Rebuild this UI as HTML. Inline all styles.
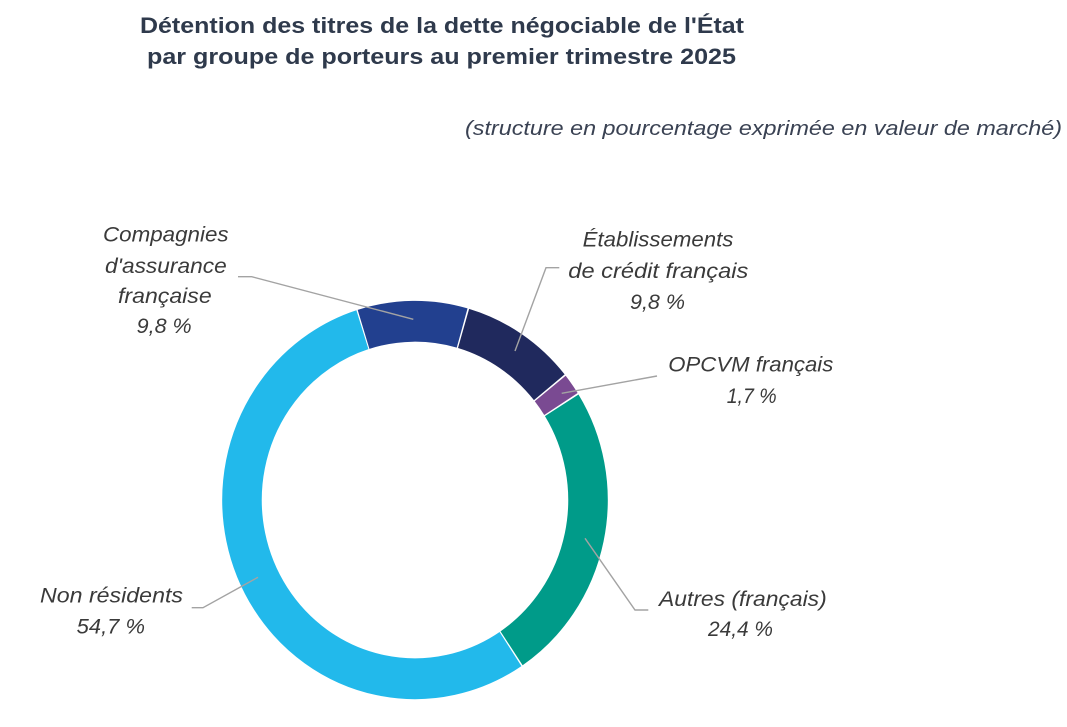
<!DOCTYPE html>
<html>
<head>
<meta charset="utf-8">
<style>
  html, body { margin: 0; padding: 0; background: #ffffff; }
  body { width: 1067px; height: 727px; overflow: hidden; }
  svg { display: block; }
  .title { font-family: "Liberation Sans", sans-serif; font-weight: bold; font-size: 22px; fill: #2f3a4c; }
  .sub { font-family: "Liberation Sans", sans-serif; font-style: italic; font-size: 20px; fill: #3a4253; }
  .lbl { font-family: "Liberation Sans", sans-serif; font-style: italic; font-size: 21px; fill: #3a3a3a; }
  .lead { fill: none; stroke: #a3a3a3; stroke-width: 1.4; }
</style>
</head>
<body>
<svg width="1067" height="727" viewBox="0 0 1067 727" xmlns="http://www.w3.org/2000/svg">
  <rect width="1067" height="727" fill="#ffffff"/>

  <!-- Titles -->
  <text class="title" x="140" y="33" textLength="604" lengthAdjust="spacingAndGlyphs">Détention des titres de la dette négociable de l'État</text>
  <text class="title" x="147" y="64" textLength="589" lengthAdjust="spacingAndGlyphs">par groupe de porteurs au premier trimestre 2025</text>
  <text class="sub" x="465" y="135" textLength="597" lengthAdjust="spacingAndGlyphs">(structure en pourcentage exprimée en valeur de marché)</text>

  <!-- Donut -->
  <g transform="translate(415,500) scale(0.9886,1.0214)">
    <circle r="175" fill="none" stroke="#22408f" stroke-width="40" stroke-dasharray="101.1 1100" transform="rotate(-107.3)"/>
    <circle r="175" fill="none" stroke="#20295d" stroke-width="40" stroke-dasharray="105.7 1100" transform="rotate(-73.7)"/>
    <circle r="175" fill="none" stroke="#7a4a92" stroke-width="40" stroke-dasharray="18.7 1100" transform="rotate(-38.6)"/>
    <circle r="175" fill="none" stroke="#009b89" stroke-width="40" stroke-dasharray="268.8 1100" transform="rotate(-32)"/>
    <circle r="175" fill="none" stroke="#22b9eb" stroke-width="40" stroke-dasharray="597.8 1100" transform="rotate(56.5)"/>
  </g>

  <!-- Leader lines -->
  <polyline class="lead" points="238,276.7 251.7,276.7 413.3,319.3"/>
  <polyline class="lead" points="559.3,267.7 546,267.7 515,351"/>
  <polyline class="lead" points="657,376 561.7,393.3"/>
  <polyline class="lead" points="191.7,607.7 203,607.7 258,577.3"/>
  <polyline class="lead" points="648.3,610 635,610 585,538.3"/>

  <!-- Labels -->
  <text class="lbl" x="103" y="241.5" textLength="125.6" lengthAdjust="spacingAndGlyphs">Compagnies</text>
  <text class="lbl" x="105" y="273" textLength="121.7" lengthAdjust="spacingAndGlyphs">d'assurance</text>
  <text class="lbl" x="118" y="303" textLength="93.7" lengthAdjust="spacingAndGlyphs">française</text>
  <text class="lbl" x="136.7" y="333" textLength="55" lengthAdjust="spacingAndGlyphs">9,8 %</text>

  <text class="lbl" x="582.7" y="246.5" textLength="150.7" lengthAdjust="spacingAndGlyphs">Établissements</text>
  <text class="lbl" x="568.3" y="278" textLength="180" lengthAdjust="spacingAndGlyphs">de crédit français</text>
  <text class="lbl" x="630" y="309" textLength="55" lengthAdjust="spacingAndGlyphs">9,8 %</text>

  <text class="lbl" x="668.3" y="371.5" textLength="165" lengthAdjust="spacingAndGlyphs">OPCVM français</text>
  <text class="lbl" x="726.7" y="403" textLength="50" lengthAdjust="spacingAndGlyphs">1,7 %</text>

  <text class="lbl" x="40" y="602.5" textLength="143" lengthAdjust="spacingAndGlyphs">Non résidents</text>
  <text class="lbl" x="76.7" y="633.5" textLength="68.3" lengthAdjust="spacingAndGlyphs">54,7 %</text>

  <text class="lbl" x="659" y="606" textLength="167.7" lengthAdjust="spacingAndGlyphs">Autres (français)</text>
  <text class="lbl" x="708" y="636" textLength="65" lengthAdjust="spacingAndGlyphs">24,4 %</text>
</svg>
</body>
</html>
